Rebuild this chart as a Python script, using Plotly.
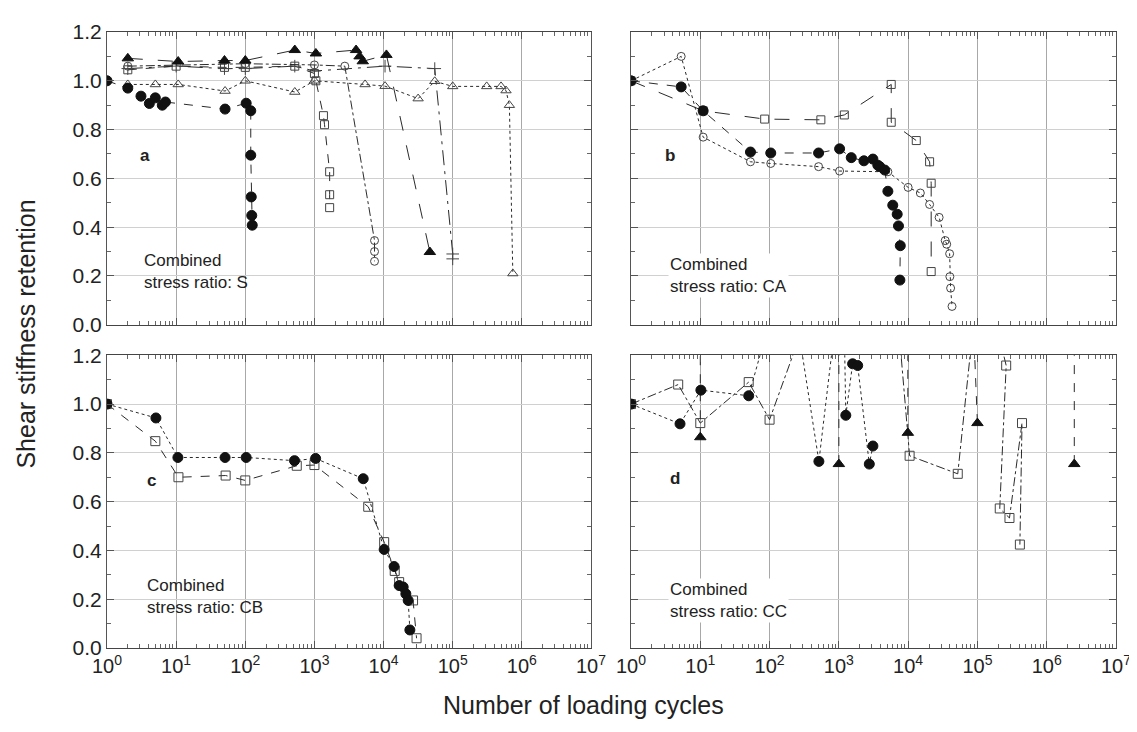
import plotly.graph_objects as go

# ---------------- data ----------------
# Panel a  (Combined stress ratio: S)
a_circ_x = [1, 2, 3.1, 4.1, 5, 6.3, 7, 51, 103, 120, 120, 122, 124, 126]
a_circ_y = [1.0, 0.97, 0.937, 0.907, 0.93, 0.90, 0.913, 0.884, 0.908, 0.877, 0.695, 0.524, 0.448, 0.408]
a_tri_x = [2, 10.7, 50, 100, 520, 1050, 4000, 4500, 5000, 11000, 46700]
a_tri_y = [1.092, 1.079, 1.083, 1.083, 1.126, 1.112, 1.126, 1.10, 1.08, 1.106, 0.298]
a_otri_x = [2, 5, 10.7, 51, 100, 520, 1000, 5400, 10500, 31600, 55000, 1e5, 3.1e5, 5e5, 5.9e5, 6.6e5, 7.4e5]
a_otri_y = [0.985, 0.985, 0.985, 0.958, 1.0, 0.954, 1.0, 0.985, 0.978, 0.927, 0.998, 0.977, 0.977, 0.977, 0.96, 0.90, 0.21]
a_sq_x = [2, 10, 50, 100, 520, 1000, 1050, 1350, 1400, 1660, 1660, 1660]
a_sq_y = [1.045, 1.06, 1.055, 1.055, 1.06, 1.03, 1.0, 0.857, 0.82, 0.627, 0.533, 0.48]
a_ocirc_x = [2, 100, 1000, 2750, 7400, 7400, 7400]
a_ocirc_y = [1.06, 1.07, 1.065, 1.06, 0.345, 0.30, 0.26]
a_plus_x = [2, 10, 50, 100, 520, 1000, 10500, 55000, 100000, 100000]
a_plus_y = [1.05, 1.06, 1.05, 1.05, 1.06, 1.04, 1.06, 1.05, 0.29, 0.27]

# Panel b  (Combined stress ratio: CA)
b_circ_x = [1, 5.3, 11, 53, 104, 510, 1025, 1510, 2300, 3100, 3650, 3900, 4600, 5100, 6000, 6950, 7250, 7700, 7600]
b_circ_y = [1.0, 0.975, 0.877, 0.708, 0.704, 0.704, 0.721, 0.685, 0.672, 0.679, 0.654, 0.648, 0.634, 0.547, 0.49, 0.453, 0.405, 0.324, 0.183]
b_ocirc_x = [1, 5.3, 11, 53, 104, 510, 1025, 5100, 10000, 15000, 20400, 28000, 34300, 36000, 39700, 40000, 41000, 43000]
b_ocirc_y = [1.0, 1.10, 0.769, 0.668, 0.661, 0.648, 0.63, 0.627, 0.563, 0.54, 0.493, 0.44, 0.345, 0.33, 0.291, 0.197, 0.15, 0.075]
b_sq_x = [1, 11, 85, 550, 1200, 5700, 5700, 13100, 20400, 21500, 21500]
b_sq_y = [1.0, 0.877, 0.843, 0.84, 0.86, 0.985, 0.83, 0.755, 0.668, 0.58, 0.218]

# Panel c  (Combined stress ratio: CB)
c_circ_x = [1, 5.1, 10.6, 51, 103, 515, 1040, 5080, 10200, 14200, 16800, 19200, 21000, 22700, 24000]
c_circ_y = [1.0, 0.943, 0.781, 0.781, 0.781, 0.768, 0.777, 0.694, 0.404, 0.334, 0.256, 0.25, 0.222, 0.195, 0.074]
c_sq_x = [1, 5.0, 10.8, 52, 100, 555, 1000, 6000, 10200, 14500, 16800, 26700, 30000]
c_sq_y = [1.0, 0.848, 0.70, 0.707, 0.687, 0.747, 0.75, 0.579, 0.434, 0.316, 0.27, 0.195, 0.04]

# Panel d  (Combined stress ratio: CC) - values above 1.2 run off the top of the panel
d_circ_x = [1, 5.1, 10.2, 50, 180, 515, 1150, 1260, 1580, 1870, 2750, 3100]
d_circ_y = [1.0, 0.919, 1.057, 1.034, 1.6, 0.765, 1.6, 0.954, 1.165, 1.158, 0.754, 0.828]
d_sq_x = [1, 4.8, 10, 50, 100, 700, 6000, 10500, 52000, 110000, 260000, 210000, 290000, 440000, 410000]
d_sq_y = [1.0, 1.08, 0.922, 1.09, 0.936, 1.6, 1.6, 0.788, 0.714, 1.6, 1.158, 0.572, 0.533, 0.922, 0.424]
d_tri_x = [10, 10, None, 1000, 1000, None, 9900, 9900, None, 100000, 80000, None, 2500000, 2500000]
d_tri_y = [0.864, 1.6, None, 0.754, 1.6, None, 0.882, 1.6, None, 0.922, 1.6, None, 0.754, 1.6]

x_tickvals = [1, 10, 100, 1000, 10000, 100000, 1000000, 10000000]
x_ticktext = ["10<sup>%d</sup>" % i for i in range(8)]
y_tickvals = [0.0, 0.2, 0.4, 0.6, 0.8, 1.0, 1.2]
y_ticktext = ["0.0", "0.2", "0.4", "0.6", "0.8", "1.0", "1.2"]
panel_labels = ["a", "b", "c", "d"]
panel_texts = ["Combined<br>stress ratio: S", "Combined<br>stress ratio: CA",
               "Combined<br>stress ratio: CB", "Combined<br>stress ratio: CC"]

# ---------------- figure ----------------
W, H = 1137, 732
L, R, T, B = 99, 29, 15, 92
PW, PH = W - L - R, H - T - B


def px(p):
    return (p - L) / PW


def py(p):
    return (H - B - p) / PH


LC = "#2a2a2a"
fig = go.Figure()


def add(x, y, sym, dash, ax, filled=True, size=9):
    xa = "x" if ax == 1 else "x%d" % ax
    ya = "y" if ax == 1 else "y%d" % ax
    fig.add_trace(go.Scatter(
        x=x, y=y, xaxis=xa, yaxis=ya, mode="lines+markers",
        line=dict(color=LC, width=1, dash=dash),
        marker=dict(symbol=sym, size=size, color="#111111" if filled else "#444444",
                    line=dict(color="#111111" if filled else "#444444", width=1)),
        connectgaps=False, showlegend=False, cliponaxis=True))


add(a_sq_x, a_sq_y, "square-open", "dash", 1, False, 8)
add(a_plus_x, a_plus_y, "cross-thin-open", "longdashdot", 1, False, 9)
add(a_ocirc_x, a_ocirc_y, "circle-open", "dashdot", 1, False, 8)
add(a_otri_x, a_otri_y, "triangle-up-open", "dot", 1, False, 9)
add(a_tri_x, a_tri_y, "triangle-up", "longdash", 1, True, 10)
add(a_circ_x, a_circ_y, "circle", "dash", 1, True, 10)

add(b_sq_x, b_sq_y, "square-open", "longdash", 2, False, 8)
add(b_ocirc_x, b_ocirc_y, "circle-open", "dot", 2, False, 8)
add(b_circ_x, b_circ_y, "circle", "dash", 2, True, 10)

add(c_sq_x, c_sq_y, "square-open", "dash", 3, False, 9)
add(c_circ_x, c_circ_y, "circle", "dot", 3, True, 10)

add(d_sq_x, d_sq_y, "square-open", "dashdot", 4, False, 9)
add(d_tri_x, d_tri_y, "triangle-up", "dash", 4, True, 10)
add(d_circ_x, d_circ_y, "circle", "dot", 4, True, 10)

xdom = [[0, px(583)], [px(623), 1], [0, px(583)], [px(623), 1]]
ydom = [[py(312), 1], [py(312), 1], [0, py(343)], [0, py(343)]]

minor_x = [m * 10 ** d for d in range(7) for m in range(2, 10)]
font = "Liberation Sans, Arial, sans-serif"

layout = dict(
    width=W, height=H, margin=dict(l=L, r=R, t=T, b=B),
    plot_bgcolor="white", paper_bgcolor="white",
    font=dict(family=font, color="#222222"),
)
for i in range(4):
    k = "" if i == 0 else str(i + 1)
    layout["xaxis" + k] = dict(
        domain=xdom[i], anchor="y" + k, type="log", range=[0, 7],
        tickmode="array", tickvals=x_tickvals, ticktext=x_ticktext,
        showticklabels=(i >= 2), tickfont=dict(size=20, color="#222"),
        ticks="inside", ticklen=7, tickcolor="#555",
        showline=True, linecolor="#444", linewidth=1, mirror="ticks",
        showgrid=True, gridcolor="#a8a8a8", gridwidth=1, zeroline=False,
        minor=dict(tickvals=minor_x, ticks="inside", ticklen=4, tickcolor="#666", showgrid=False),
    )
    layout["yaxis" + k] = dict(
        domain=ydom[i], anchor="x" + k, range=[0, 1.2],
        tickmode="array", tickvals=y_tickvals, ticktext=y_ticktext,
        showticklabels=(i in (0, 2)), tickfont=dict(size=21, color="#222"),
        ticks="inside", ticklen=7, tickcolor="#555",
        showline=True, linecolor="#555", linewidth=1, mirror="ticks",
        showgrid=True, gridcolor="#d0d0d0", gridwidth=1, zeroline=False,
        minor=dict(dtick=0.1, tick0=0, ticks="inside", ticklen=4, tickcolor="#666", showgrid=False),
    )
fig.update_layout(**layout)

lab_pos = [(137, 140), (662, 140), (143, 470), (667, 468)]
txt_pos = [(134, 258), (660, 262), (137, 588), (660, 592)]
for i in range(4):
    fig.add_annotation(text="<b>%s</b>" % panel_labels[i], xref="paper", yref="paper",
                       x=px(lab_pos[i][0]), y=py(lab_pos[i][1]), showarrow=False,
                       font=dict(size=17, color="#222"), xanchor="center", yanchor="middle")
    fig.add_annotation(text=panel_texts[i], xref="paper", yref="paper",
                       x=px(txt_pos[i][0]), y=py(txt_pos[i][1]), showarrow=False, align="left",
                       font=dict(size=17, color="#222"), xanchor="left", yanchor="middle",
                       bgcolor="white" if i in (1, 3) else "rgba(0,0,0,0)")

fig.add_annotation(text="Shear stiffness retention", xref="paper", yref="paper",
                   x=px(18), y=py(322), textangle=-90, showarrow=False,
                   font=dict(size=25, color="#222"), xanchor="center", yanchor="middle")
fig.add_annotation(text="Number of loading cycles", xref="paper", yref="paper",
                   x=px(575), y=py(698), showarrow=False,
                   font=dict(size=25, color="#222"), xanchor="center", yanchor="middle")

fig.write_html("out.html")
